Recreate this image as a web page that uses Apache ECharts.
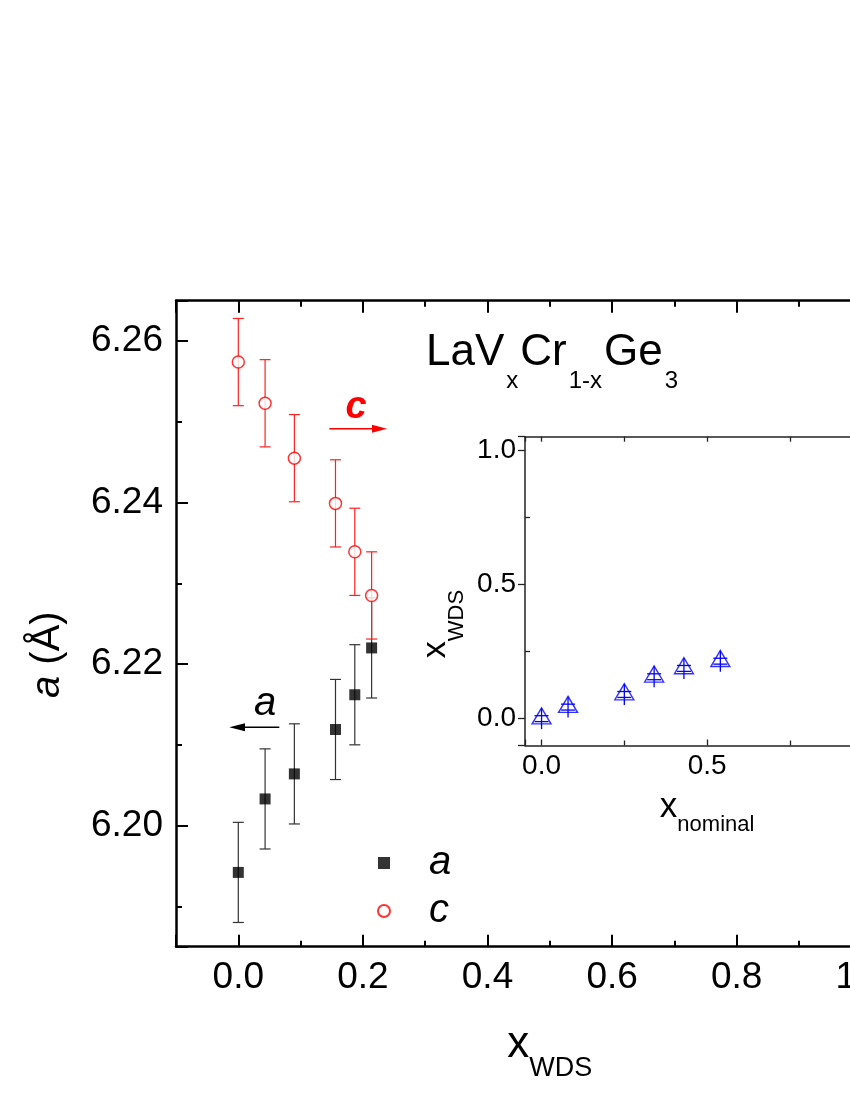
<!DOCTYPE html>
<html><head><meta charset="utf-8">
<script src="https://cdn.jsdelivr.net/npm/echarts@6/dist/echarts.min.js"></script>
<style>html,body{margin:0;padding:0;background:#fff}#c{width:850px;height:1100px}</style>
</head><body><div id="c"></div>
<script>
// ---- data ----
const xWDS   = [0, 0.043, 0.09, 0.156, 0.187, 0.214];
const aVals  = [6.1942, 6.2033, 6.2064, 6.2119, 6.2162, 6.2220];
const aErr   = [0.0062, 0.0062, 0.0062, 0.0062, 0.0062, 0.0062];
// c is plotted on the right-hand axis (outside the visible area)
const cVals  = [5.7724, 5.7673, 5.7605, 5.7549, 5.7489, 5.7435];
const cErr   = [0.0054, 0.0054, 0.0054, 0.0054, 0.0054, 0.0054];
// inset: x_WDS vs x_nominal
const xNominal  = [0, 0.08, 0.25, 0.34, 0.43, 0.54];
const xWDSinset = [0, 0.043, 0.09, 0.156, 0.187, 0.214];
const insetErr  = [0.039, 0.039, 0.039, 0.039, 0.039, 0.039];
const insetCap  = [0.011, 0.011, 0.011, 0.011, 0.011, 0.011];
// axis tick label steps
const mainXStep = 0.2, mainYStep = 0.02, insetStep = 0.5;

const FONT = 'Liberation Sans, Arial, Helvetica, sans-serif';
const isMult = (v, s) => Math.abs(v / s - Math.round(v / s)) < 1e-6;

function errRender(capHalf, color, width) {
  return function (params, api) {
    const x = api.value(0), y = api.value(1), e = api.value(2);
    const t = api.coord([x, y + e]), b = api.coord([x, y - e]);
    const st = { stroke: color, lineWidth: width };
    return { type: 'group', children: [
      { type: 'line', shape: { x1: t[0], y1: t[1], x2: b[0], y2: b[1] }, style: st },
      { type: 'line', shape: { x1: t[0] - capHalf, y1: t[1], x2: t[0] + capHalf, y2: t[1] }, style: st },
      { type: 'line', shape: { x1: b[0] - capHalf, y1: b[1], x2: b[0] + capHalf, y2: b[1] }, style: st }
    ]};
  };
}
function insetErrRender(params, api) {
  const x = api.value(0), y = api.value(1), e = api.value(2), ce = api.value(3);
  const t = api.coord([x, y + e]), b = api.coord([x, y - e]);
  const ct = api.coord([x, y + ce]), cb = api.coord([x, y - ce]);
  const st = { stroke: '#0000ff', lineWidth: 1.3 };
  return { type: 'group', children: [
    { type: 'line', shape: { x1: t[0], y1: t[1], x2: b[0], y2: b[1] }, style: st },
    { type: 'line', shape: { x1: ct[0] - 7, y1: ct[1], x2: ct[0] + 7, y2: ct[1] }, style: st },
    { type: 'line', shape: { x1: cb[0] - 7, y1: cb[1], x2: cb[0] + 7, y2: cb[1] }, style: st }
  ]};
}

const mainLine = { show: true, onZero: false, lineStyle: { color: '#000', width: 2.5 } };
const mainTick = { show: true, inside: true, length: 12, lineStyle: { color: '#000', width: 2 } };
const mainMinor = { show: true, splitNumber: 2, length: 6, lineStyle: { color: '#000', width: 2 } };
const insLine = { show: true, onZero: false, lineStyle: { color: '#222', width: 1.5 } };

const option = {
  backgroundColor: '#fff',
  animation: false,
  textStyle: { fontFamily: FONT },
  grid: [
    { left: 176, top: 300.7, width: 747.6, bottom: 153.3, outerBoundsMode: 'none', containLabel: false },
    { left: 525, top: 436.7, width: 364.2, bottom: 354.5, outerBoundsMode: 'none', containLabel: false,
      show: true, backgroundColor: '#fff', borderWidth: 0 }
  ],
  xAxis: [
    { gridIndex: 0, type: 'value', min: -0.1, max: 1.1, splitNumber: 6, position: 'bottom',
      axisLine: mainLine, axisTick: mainTick, minorTick: mainMinor,
      splitLine: { show: false },
      axisLabel: { margin: 13, fontSize: 37, color: '#000', fontFamily: FONT,
        formatter: v => isMult(v, mainXStep) ? v.toFixed(1) : '' },
      name: '{m|x}{s|WDS}', nameLocation: 'middle', nameGap: 76,
      nameTextStyle: { rich: {
        m: { fontSize: 44, lineHeight: 44, verticalAlign: 'top', color: '#000', fontFamily: FONT },
        s: { fontSize: 27, lineHeight: 59, padding: [32, 0, 0, 0], verticalAlign: 'bottom', color: '#000', fontFamily: FONT }
      } } },
    { gridIndex: 0, type: 'value', min: -0.1, max: 1.1, splitNumber: 6, position: 'top',
      axisLine: mainLine, axisTick: mainTick, minorTick: mainMinor,
      splitLine: { show: false }, axisLabel: { show: false } },
    { gridIndex: 1, type: 'value', min: -0.05, max: 1.05, splitNumber: 2, position: 'bottom',
      axisLine: insLine,
      axisTick: { show: true, inside: true, length: 6, lineStyle: { color: '#222', width: 1.3 } },
      minorTick: { show: true, splitNumber: 2, length: 5, lineStyle: { color: '#222', width: 1.3 } },
      splitLine: { show: false },
      axisLabel: { margin: 7, fontSize: 28, color: '#000', fontFamily: FONT,
        formatter: v => isMult(v, insetStep) ? v.toFixed(1) : '' },
      name: '{m|x}{s|nominal}', nameLocation: 'middle', nameGap: 44,
      nameTextStyle: { rich: {
        m: { fontSize: 35, lineHeight: 35, verticalAlign: 'top', color: '#000', fontFamily: FONT },
        s: { fontSize: 22, lineHeight: 46, padding: [24, 0, 0, 0], verticalAlign: 'bottom', color: '#000', fontFamily: FONT }
      } } },
    { gridIndex: 1, type: 'value', min: -0.05, max: 1.05, splitNumber: 2, position: 'top',
      axisLine: insLine,
      axisTick: { show: true, inside: true, length: 5, lineStyle: { color: '#222', width: 1.3 } },
      minorTick: { show: true, splitNumber: 2, length: 5, lineStyle: { color: '#222', width: 1.3 } },
      splitLine: { show: false }, axisLabel: { show: false } }
  ],
  yAxis: [
    { gridIndex: 0, type: 'value', min: 6.185, max: 6.265, splitNumber: 4, position: 'left',
      axisLine: mainLine, axisTick: mainTick, minorTick: mainMinor,
      splitLine: { show: false },
      axisLabel: { margin: 13, fontSize: 37, color: '#000', fontFamily: FONT,
        formatter: v => isMult(v, mainYStep) ? v.toFixed(2) : '' },
      name: '{i|a}{n| (Å)}', nameLocation: 'middle', nameGap: 108,
      nameTextStyle: { padding: [0, 62, 0, 0], rich: {
        i: { fontSize: 40, fontStyle: 'italic', color: '#000', fontFamily: FONT },
        n: { fontSize: 40, color: '#000', fontFamily: FONT }
      } } },
    { gridIndex: 0, type: 'value', min: 5.70, max: 5.78, splitNumber: 4, position: 'right',
      axisLine: mainLine, axisTick: mainTick, minorTick: mainMinor,
      splitLine: { show: false }, axisLabel: { show: false } },
    { gridIndex: 1, type: 'value', min: -0.1, max: 1.05, splitNumber: 2, position: 'left',
      axisLine: insLine,
      axisTick: { show: true, inside: false, length: 7, lineStyle: { color: '#222', width: 1.3 } },
      minorTick: { show: false },
      splitLine: { show: false },
      axisLabel: { margin: 9, fontSize: 28, color: '#000', fontFamily: FONT,
        formatter: v => isMult(v, insetStep) ? v.toFixed(1) : '' },
      name: '{m|x}{s|WDS}', nameLocation: 'middle', nameGap: 57,
      nameTextStyle: { padding: [0, 66, 0, 0], rich: {
        m: { fontSize: 34, lineHeight: 34, verticalAlign: 'top', color: '#000', fontFamily: FONT },
        s: { fontSize: 22, lineHeight: 49, padding: [27, 0, 0, 0], verticalAlign: 'bottom', color: '#000', fontFamily: FONT }
      } } },
    { gridIndex: 1, type: 'value', min: -0.1, max: 1.05, splitNumber: 2, position: 'left',
      axisLine: { show: false, onZero: false },
      axisTick: { show: false, inside: true },
      minorTick: { show: true, splitNumber: 2, length: 5, lineStyle: { color: '#222', width: 1.3 } },
      splitLine: { show: false }, axisLabel: { show: false } },
    { gridIndex: 1, type: 'value', min: -0.1, max: 1.05, splitNumber: 2, position: 'right',
      axisLine: insLine, axisTick: { show: false }, splitLine: { show: false }, axisLabel: { show: false } }
  ],
  legend: {
    orient: 'vertical', left: 377, top: 843, padding: 0, itemGap: 8,
    itemWidth: 12, itemHeight: 12, data: ['a', 'c'],
    formatter: '{t|{name}}',
    textStyle: { rich: { t: { fontSize: 40, fontStyle: 'italic', color: '#000', fontFamily: FONT, padding: [0, 0, 0, 34] } } }
  },
  series: [
    { name: 'aErr', type: 'custom', xAxisIndex: 0, yAxisIndex: 0, silent: true, z: 2,
      renderItem: errRender(5.5, '#333', 1.2), encode: { x: 0, y: 1 },
      data: xWDS.map((x, i) => [x, aVals[i], aErr[i]]) },
    { name: 'cErr', type: 'custom', xAxisIndex: 0, yAxisIndex: 1, silent: true, z: 2,
      renderItem: errRender(5.5, '#ff2020', 1.2), encode: { x: 0, y: 1 },
      data: xWDS.map((x, i) => [x, cVals[i], cErr[i]]) },
    { name: 'a', type: 'scatter', xAxisIndex: 0, yAxisIndex: 0, z: 3,
      symbol: 'rect', symbolSize: 11, itemStyle: { color: '#000' },
      data: xWDS.map((x, i) => [x, aVals[i]]) },
    { name: 'c', type: 'scatter', xAxisIndex: 0, yAxisIndex: 1, z: 3,
      symbol: 'circle', symbolSize: 12, itemStyle: { color: '#fff', borderColor: '#ff0000', borderWidth: 1.5 },
      data: xWDS.map((x, i) => [x, cVals[i]]) },
    { name: 'inset', type: 'scatter', xAxisIndex: 2, yAxisIndex: 2, z: 3,
      symbol: 'triangle', symbolSize: [19, 16], symbolOffset: [0, -2.7],
      itemStyle: { color: 'rgba(0,0,0,0)', borderColor: '#0000ff', borderWidth: 1.4 },
      data: xNominal.map((x, i) => [x, xWDSinset[i]]) },
    { name: 'insetErr', type: 'custom', xAxisIndex: 2, yAxisIndex: 2, silent: true, z: 4,
      renderItem: insetErrRender, encode: { x: 0, y: 1 },
      data: xNominal.map((x, i) => [x, xWDSinset[i], insetErr[i], insetCap[i]]) }
  ],
  graphic: [
    { type: 'text', left: 426, top: 330.5, z: 10,
      style: { text: '{m|LaV}{s|x}{m|Cr}{s|1-x}{m|Ge}{s|3}', rich: {
        m: { fontSize: 44, lineHeight: 50, verticalAlign: 'top', fill: '#000', fontFamily: FONT },
        s: { fontSize: 24, lineHeight: 63, padding: [39, 2, 0, 2], verticalAlign: 'bottom', fill: '#000', fontFamily: FONT }
      } } },
    // c arrow (points to right axis)
    { type: 'line', z: 10, shape: { x1: 329.3, y1: 428.7, x2: 373, y2: 428.7 }, style: { stroke: '#ff0000', lineWidth: 1.5 } },
    { type: 'polygon', z: 10, shape: { points: [[372, 424.7], [387, 428.7], [372, 432.7]] }, style: { fill: '#ff0000' } },
    { type: 'text', z: 10, x: 356, y: 408, style: { text: 'c', fontSize: 38, fontStyle: 'italic', fontWeight: 'bold',
      fill: '#ff0000', fontFamily: FONT, align: 'center', verticalAlign: 'middle' } },
    // a arrow (points to left axis)
    { type: 'line', z: 10, shape: { x1: 244, y1: 727.3, x2: 279.3, y2: 727.3 }, style: { stroke: '#000', lineWidth: 1.5 } },
    { type: 'polygon', z: 10, shape: { points: [[245, 723.3], [229.3, 727.3], [245, 731.3]] }, style: { fill: '#000' } },
    { type: 'text', z: 10, x: 265, y: 704, style: { text: 'a', fontSize: 40, fontStyle: 'italic',
      fill: '#000', fontFamily: FONT, align: 'center', verticalAlign: 'middle' } }
  ]
};
const chart = echarts.init(document.getElementById('c'), null, { renderer: 'canvas' });
chart.setOption(option);
</script></body></html>
